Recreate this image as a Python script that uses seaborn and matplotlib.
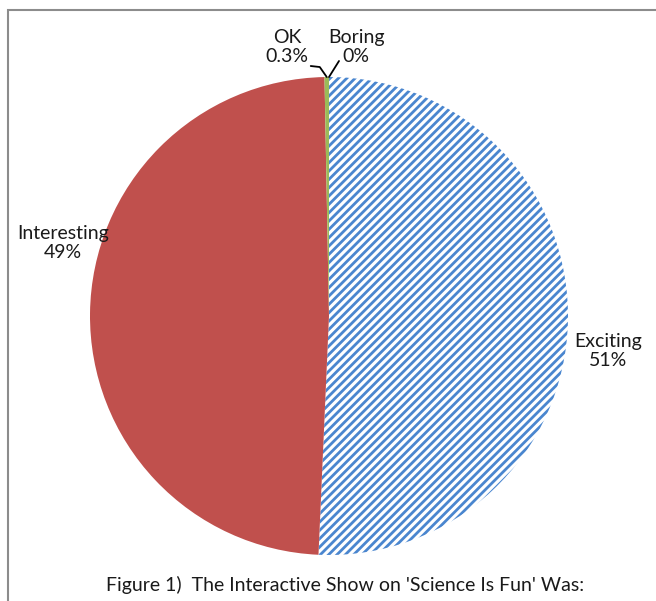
import numpy as np
import seaborn as sns
import matplotlib.pyplot as plt
from matplotlib.patches import Rectangle

labels = ["Exciting", "Interesting", "OK", "Boring"]
shares = [50.7, 49.0, 0.3, 0.0]
pct_text = ["51%", "49%", "0.3%", "0%"]
colors = ["#4A86CF", "#C0504D", "#9BBB59", "#8064A2"]
title = "Figure 1)  The Interactive Show on 'Science Is Fun' Was:"

sns.set_theme(style="white")
plt.rcParams["font.family"] = ["Lato", "DejaVu Sans"]
plt.rcParams["hatch.linewidth"] = 2.0

W, H = 656, 601
fig = plt.figure(figsize=(W / 100, H / 100), dpi=100)
ax = fig.add_axes([0, 0, 1, 1])

cx, cy, r = 329, H - 316, 239
wedges, _ = ax.pie(shares, colors=colors, startangle=90, counterclock=False,
                   center=(cx, cy), radius=r,
                   wedgeprops=dict(linewidth=0))
# Exciting slice is hatched blue on white
wedges[0].set_facecolor("white")
wedges[0].set_edgecolor(colors[0])
wedges[0].set_hatch("////")
wedges[0].set_linewidth(0)

ax.set_xlim(0, W)
ax.set_ylim(0, H)
ax.set_aspect("equal")
ax.axis("off")

# label positions (pixel coords, y from top)
label_pos = {"Exciting": (608, 351), "Interesting": (63, 243),
             "OK": (287, 47), "Boring": (356, 47)}
for lab, pct in zip(labels, pct_text):
    x, y = label_pos[lab]
    ax.text(x, H - y, f"{lab}\n{pct}", ha="center", va="center",
            fontsize=14, color="#1a1a1a", linespacing=1.2)

# leader lines for the tiny slices
def edge_point(i):
    start = 90 - sum(shares[:i]) * 3.6
    mid = np.deg2rad(start - shares[i] * 1.8)
    return cx + r * np.cos(mid), cy + r * np.sin(mid)

ex, ey = edge_point(2)
ax.plot([ex - 16, ex - 7, ex], [ey + 11, ey + 10, ey], color="black", lw=1.3)
bx, by = edge_point(3)
ax.plot([bx + 10, bx + 5, bx], [by + 16, by + 8, by], color="black", lw=1.3)

ax.text(345, H - 585, title, ha="center", va="center",
        fontsize=14, color="#1a1a1a")

# chart-area frame
fig.patches.append(Rectangle((8 / W, -0.1), 1.2, (H - 10) / H + 0.1,
                             transform=fig.transFigure, fill=False,
                             edgecolor="#8c8c8c", linewidth=1.5))

fig.savefig("out.png", dpi=100)
